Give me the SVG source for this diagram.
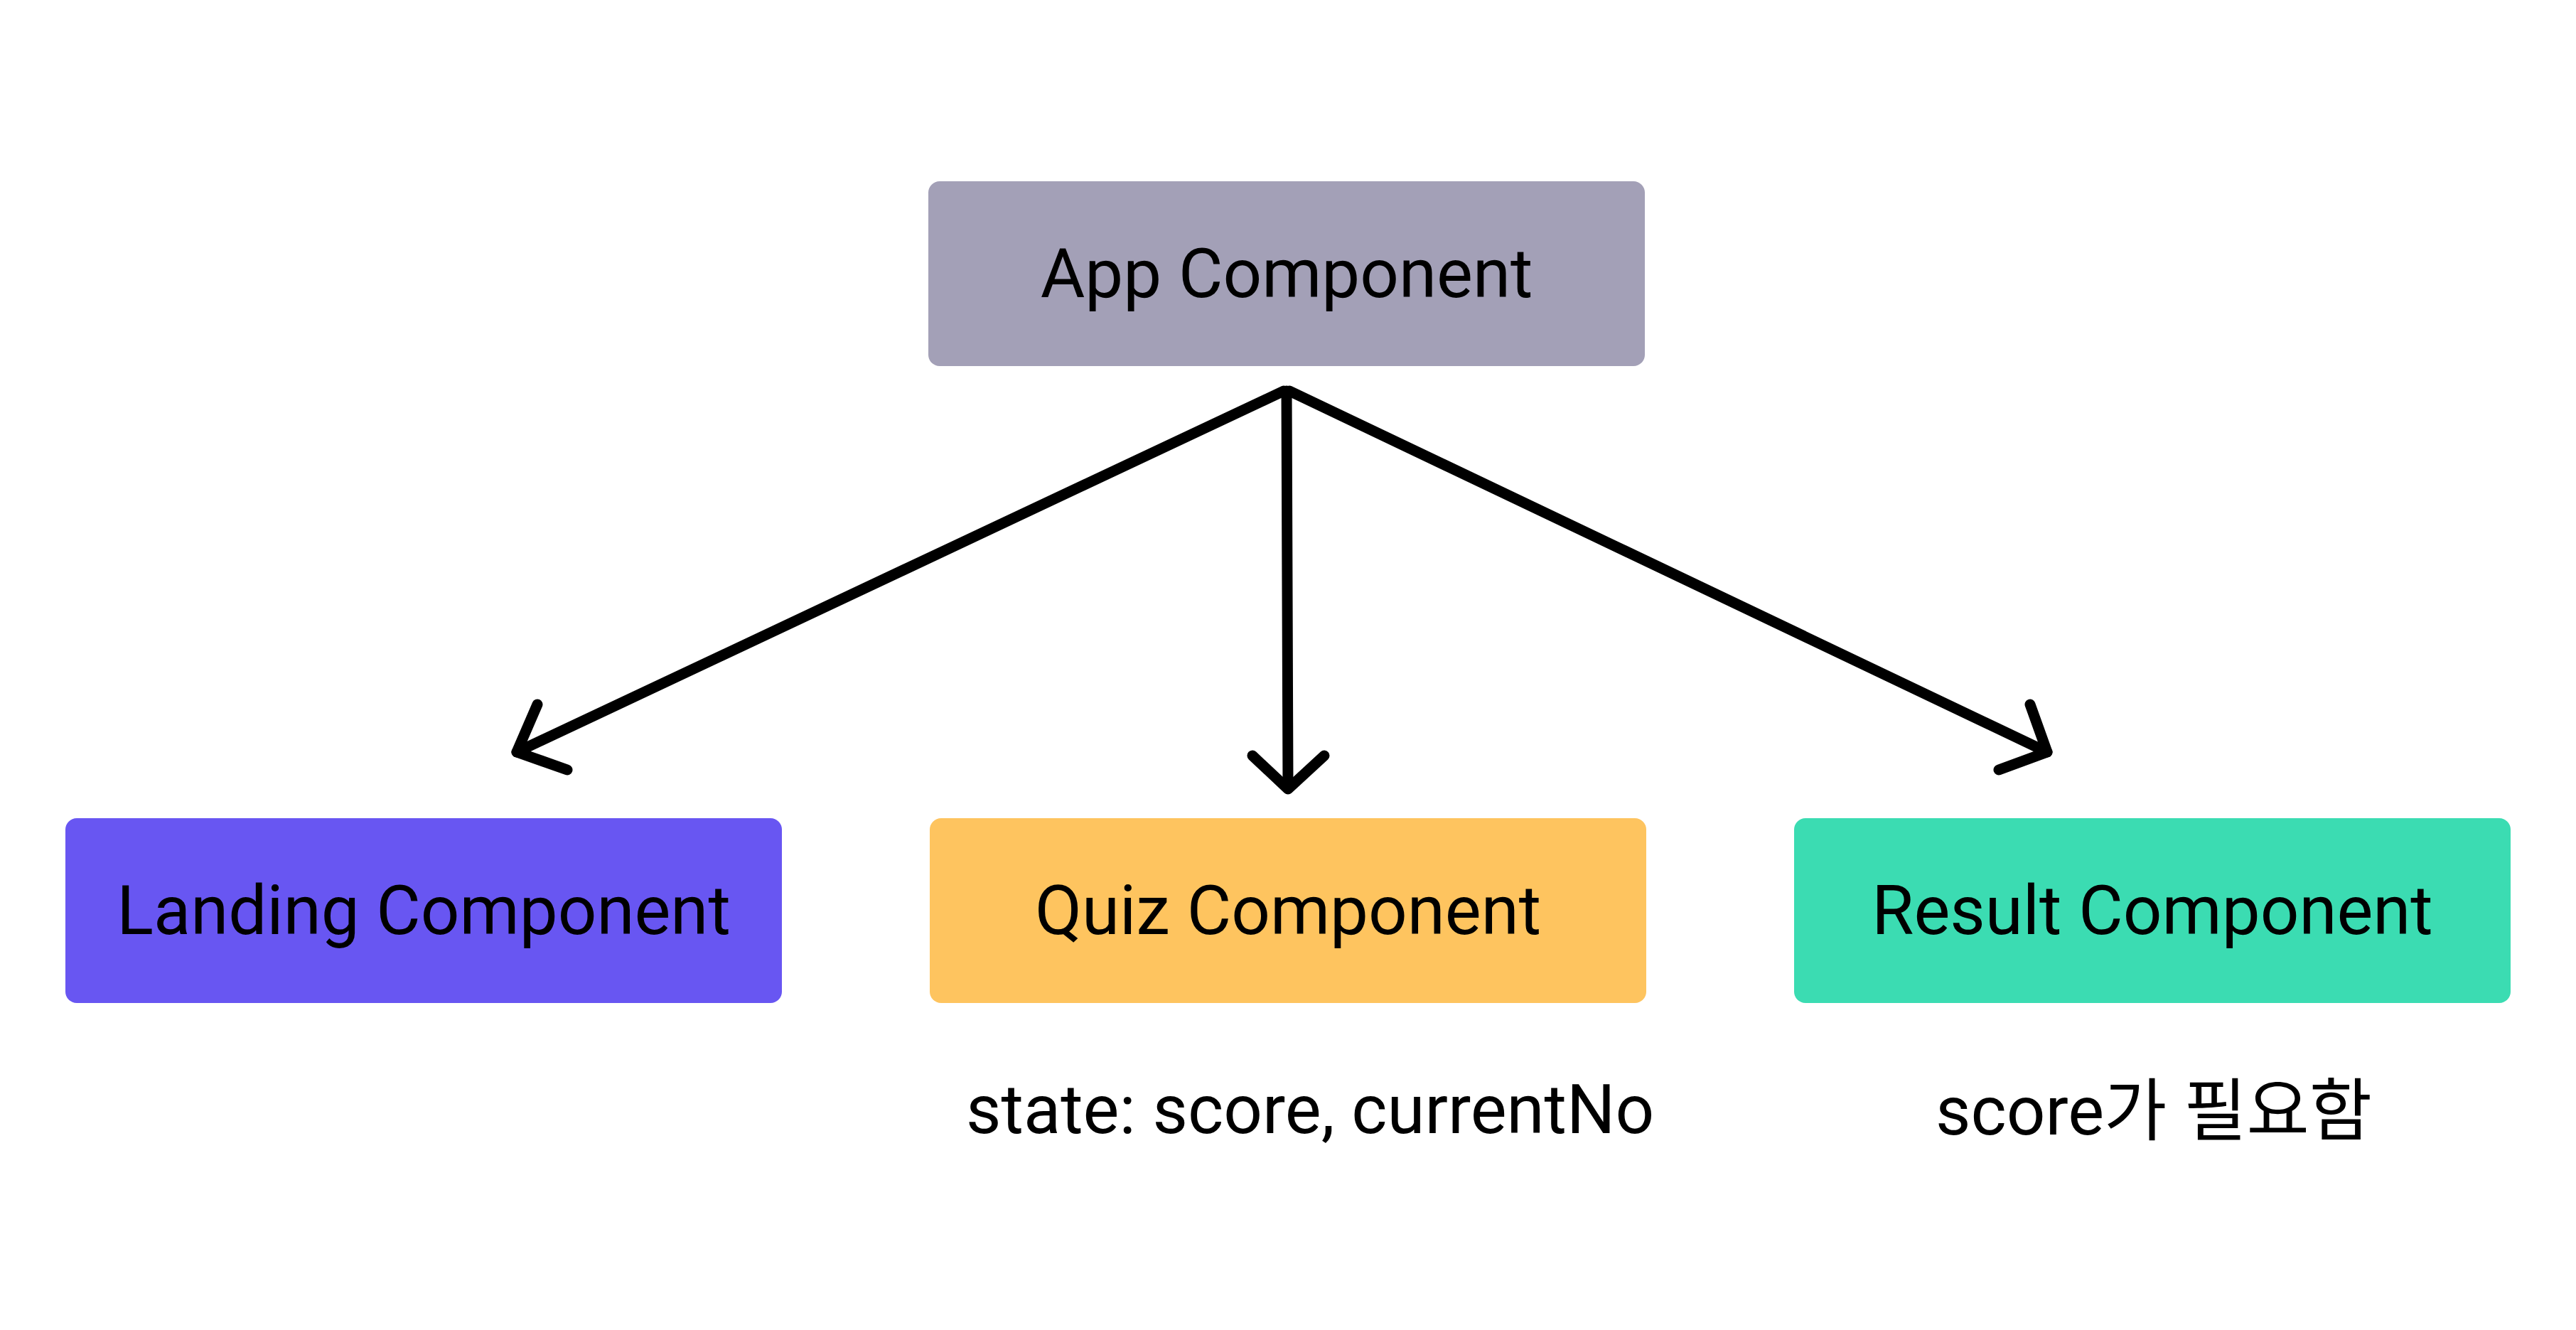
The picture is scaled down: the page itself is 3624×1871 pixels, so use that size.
<svg xmlns="http://www.w3.org/2000/svg" width="3624" height="1871" viewBox="0 0 3624 1871">
<style>
  .box { stroke: none; }
  .lbl { font-family: Roboto, "Noto Sans CJK KR", "Liberation Sans", sans-serif; font-size: 96px; fill: #000; }
  .c { text-anchor: middle; }
  .conn { fill: none; stroke: #000; stroke-width: 15; stroke-linecap: round; stroke-linejoin: round; }
</style>
<rect width="3624" height="1871" fill="#ffffff"/>
<g id="app">
  <rect class="box" x="1306" y="255" width="1008" height="260" rx="16" fill="#a3a0b7"/>
  <text class="lbl c" x="1810" y="418">App Component</text>
</g>
<g id="landing">
  <rect class="box" x="92" y="1151" width="1008" height="260" rx="16" fill="#6856f2"/>
  <text class="lbl c" x="596" y="1314">Landing Component</text>
</g>
<g id="quiz">
  <rect class="box" x="1308" y="1151" width="1008" height="260" rx="16" fill="#fec45f"/>
  <text class="lbl c" x="1812" y="1314">Quiz Component</text>
</g>
<g id="result">
  <rect class="box" x="2524" y="1151" width="1008" height="260" rx="16" fill="#3bdcb2"/>
  <text class="lbl c" x="3028" y="1314">Result Component</text>
</g>
<g id="quiz-note">
  <text class="lbl" x="1359" y="1594">state: score, currentNo</text>
</g>
<g id="result-note">
  <text class="lbl" x="2723" y="1596">score가 필요함</text>
</g>
<g id="connectors">
  <path class="conn" d="M1806 550 L727 1058"/>
  <path class="conn" d="M756 991 L727 1058 L798 1083"/>
  <path class="conn" d="M1810 550 L1812 1108"/>
  <path class="conn" d="M1762 1063 L1812 1110 L1863 1063"/>
  <path class="conn" d="M1814 550 L2880 1058"/>
  <path class="conn" d="M2856 991 L2880 1058 L2812 1083"/>
</g>
</svg>
